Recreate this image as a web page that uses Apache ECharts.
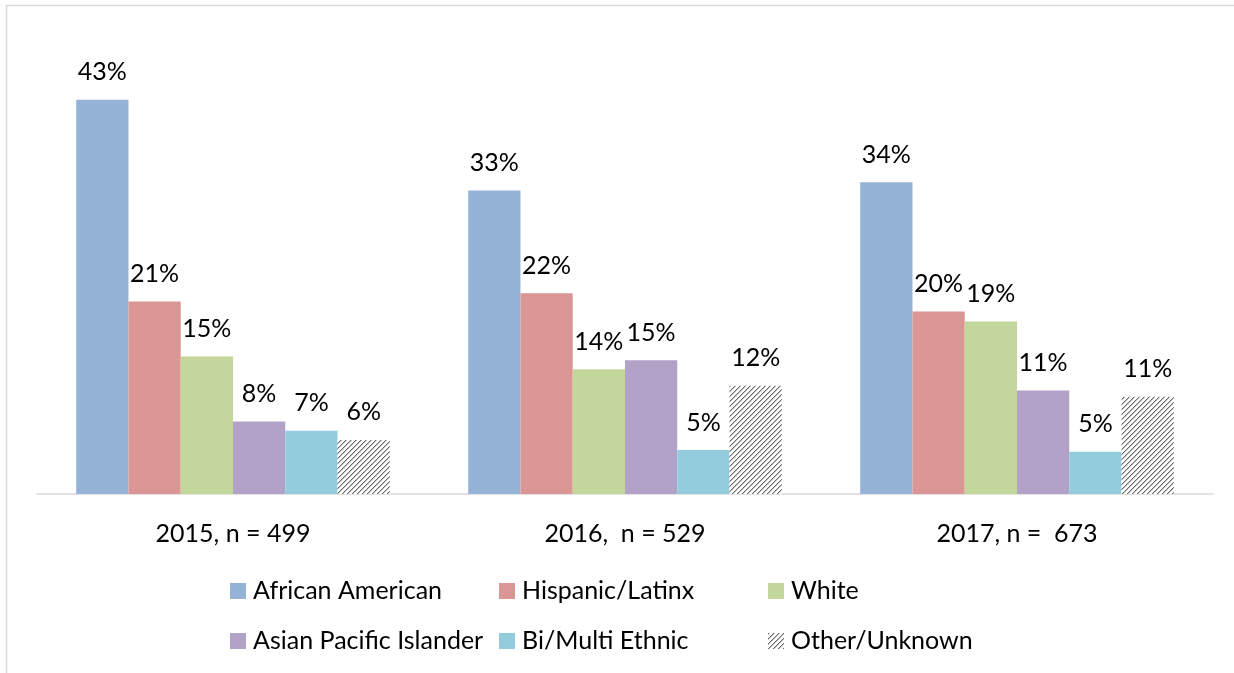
<!DOCTYPE html>
<html>
<head>
<meta charset="utf-8">
<script src="https://cdn.jsdelivr.net/npm/echarts@6/dist/echarts.min.js"></script>
<style>
  html, body { margin: 0; padding: 0; background: #fff; }
  #chart { width: 1234px; height: 673px; }
</style>
</head>
<body>
<div id="chart"></div>
<script>
// categories on the x axis (spacing kept as in the original)
const categories = ['2015, n = 499', '2016,  n = 529', '2017, n =  673'];

const seriesNames = [
  'African American', 'Hispanic/Latinx', 'White',
  'Asian Pacific Islander', 'Bi/Multi Ethnic', 'Other/Unknown'
];

// percent values
const africanAmerican = [43, 33.1, 34];
const hispanicLatinx = [21, 21.9, 19.9];
const white = [15, 13.6, 18.8];
const asianPacificIslander = [7.9, 14.6, 11.3];
const biMultiEthnic = [6.9, 4.8, 4.6];
const otherUnknown = [5.9, 11.8, 10.6];

const seriesValues = [
  africanAmerican, hispanicLatinx, white,
  asianPacificIslander, biMultiEthnic, otherUnknown
];

const FONT = 'Lato';
const FONT_SIZE = 25;

// diagonal hatch for Other/Unknown
function makeHatch() {
  const size = 5;
  const canvas = document.createElement('canvas');
  canvas.width = size;
  canvas.height = size;
  const ctx = canvas.getContext('2d');
  ctx.fillStyle = '#fff';
  ctx.fillRect(0, 0, size, size);
  for (let x = 0; x < size; x++) {
    for (let y = 0; y < size; y++) {
      const k = (x + y) % size;
      if (k === 0) {
        ctx.fillStyle = '#666';
        ctx.fillRect(x, y, 1, 1);
      } else if (k === 1) {
        ctx.fillStyle = '#c4c4c4';
        ctx.fillRect(x, y, 1, 1);
      }
    }
  }
  return { image: canvas, repeat: 'repeat' };
}

const colors = ['#95b3d7', '#d99694', '#c3d69b', '#b3a2c7', '#93cddd', makeHatch()];

// legend grid: three columns, two rows
const legendCols = [230, 499, 768];
const legendRows = [578, 628];

const legends = seriesNames.map((name, i) => ({
  data: [name],
  left: legendCols[i % 3],
  top: legendRows[Math.floor(i / 3)],
  padding: 0,
  itemWidth: 16,
  itemHeight: 16,
  icon: 'rect',
  selectedMode: false,
  textStyle: {
    fontFamily: FONT,
    fontSize: FONT_SIZE,
    color: '#000',
    padding: [0, 0, 0, 2],
    lineHeight: 26
  }
}));

const series = seriesNames.map((name, i) => ({
  name: name,
  type: 'bar',
  data: seriesValues[i],
  barGap: 0,
  barCategoryGap: '20%',
  itemStyle: { color: colors[i] },
  label: {
    show: true,
    position: 'top',
    distance: 15,
    fontFamily: FONT,
    fontSize: FONT_SIZE,
    color: '#000',
    formatter: p => Math.round(p.value) + '%'
  }
}));

const chart = echarts.init(document.getElementById('chart'));

chart.setOption({
  animation: false,
  backgroundColor: '#fff',
  legend: legends,
  grid: { left: 37, right: 21, top: 81.4, bottom: 179 },
  xAxis: {
    type: 'category',
    data: categories,
    axisLine: { lineStyle: { color: '#d9d9d9', width: 1.5 } },
    axisTick: { show: false },
    axisLabel: {
      margin: 27,
      fontFamily: FONT,
      fontSize: FONT_SIZE,
      color: '#000'
    }
  },
  yAxis: {
    type: 'value',
    min: 0,
    max: 45,
    show: false
  },
  graphic: [
    {
      type: 'line',
      shape: { x1: 6.5, y1: 5, x2: 6.5, y2: 673 },
      style: { stroke: '#d9d9d9', lineWidth: 1.5 }
    },
    {
      type: 'line',
      shape: { x1: 6, y1: 5.5, x2: 1234, y2: 5.5 },
      style: { stroke: '#d9d9d9', lineWidth: 1.5 }
    }
  ],
  series: series
});
</script>
</body>
</html>
